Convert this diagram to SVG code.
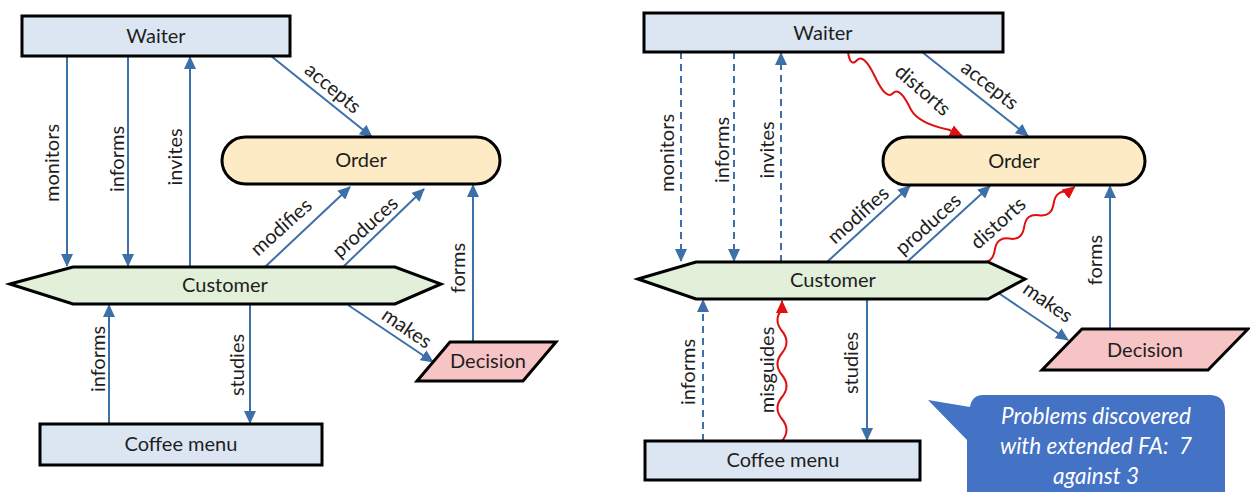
<svg xmlns="http://www.w3.org/2000/svg" width="1250" height="494" viewBox="0 0 1250 494">
<style>
text{font-family:Lato,"Open Sans","Liberation Sans",sans-serif;font-size:20px;fill:#1e1e1e}
.n{text-anchor:middle}
.lb{text-anchor:middle}
.box{fill:#DCE6F2;stroke:#000;stroke-width:3}
.ord{fill:#FDEBC6;stroke:#000;stroke-width:3}
.cus{fill:#E2EFD9;stroke:#000;stroke-width:3}
.dec{fill:#F6C4C4;stroke:#000;stroke-width:3}
.a{fill:none;stroke:#3D6FA8;stroke-width:2;marker-end:url(#ab)}
.d{stroke-dasharray:7 5}
.r{fill:none;stroke:#E01010;stroke-width:2;marker-end:url(#ar)}
.call{fill:#4472C4}
.ct{font-style:italic;font-size:22.5px;fill:#fff;text-anchor:middle}
</style>
<defs>
<marker id="ab" markerWidth="13" markerHeight="12" refX="12" refY="6" orient="auto" markerUnits="userSpaceOnUse"><path d="M0,0 L13,6 L0,12 z" fill="#3D6FA8"/></marker>
<marker id="ar" markerWidth="13" markerHeight="12" refX="12" refY="6" orient="auto" markerUnits="userSpaceOnUse"><path d="M0,0 L13,6 L0,12 z" fill="#E01010"/></marker>
</defs>

<!-- LEFT DIAGRAM -->
<g id="connectors-left">
<path class="a" d="M67,56 V266"/>
<path class="a" d="M128,56 V266"/>
<path class="a" d="M190,267 V57"/>
<path class="a" d="M271,56 L372,137"/>
<path class="a" d="M265,267 L350,187"/>
<path class="a" d="M343,267 L424,189"/>
<path class="a" d="M473,342 V185"/>
<path class="a" d="M348,305 L433,362"/>
<path class="a" d="M109,424 V305"/>
<path class="a" d="M250,304 V423"/>
<text class="lb" transform="translate(52,163) rotate(-90)" dy=".35em">monitors</text>
<text class="lb" transform="translate(117,159) rotate(-90)" dy=".35em">informs</text>
<text class="lb" transform="translate(175,157) rotate(-90)" dy=".35em">invites</text>
<text class="lb" transform="translate(333,88) rotate(40)" dy=".35em">accepts</text>
<text class="lb" transform="translate(281,227) rotate(-42)" dy=".35em">modifies</text>
<text class="lb" transform="translate(365,227) rotate(-42)" dy=".35em">produces</text>
<text class="lb" transform="translate(458,268) rotate(-90)" dy=".35em">forms</text>
<text class="lb" transform="translate(407,328) rotate(34)" dy=".35em">makes</text>
<text class="lb" transform="translate(98,359) rotate(-90)" dy=".35em">informs</text>
<text class="lb" transform="translate(237,365) rotate(-90)" dy=".35em">studies</text>
</g>
<g id="waiter-left"><rect class="box" x="22" y="16" width="268" height="40"/><text class="n" x="156" y="43">Waiter</text></g>
<g id="order-left"><rect class="ord" x="222" y="137" width="278" height="47" rx="23.5"/><text class="n" x="361" y="167">Order</text></g>
<g id="customer-left"><polygon class="cus" points="10,284 73,267 395,267 441,284 395,304 73,304"/><text class="n" x="225" y="292">Customer</text></g>
<g id="coffee-left"><rect class="box" x="40" y="424" width="282" height="41"/><text class="n" x="181" y="451">Coffee menu</text></g>
<g id="decision-left"><polygon class="dec" points="450,342 556,342 523,381 417,381"/><text class="n" x="488" y="368">Decision</text></g>

<!-- RIGHT DIAGRAM -->
<g id="connectors-right">
<path class="a d" d="M681,52 V261"/>
<path class="a d" d="M734,52 V261"/>
<path class="a d" d="M781,262 V53"/>
<path class="a" d="M922,52 L1028,136"/>
<path class="r" d="M848,52 q2.24,15.62 9,8.25 t18,16.5 t18,16.5 t18,16.5 q8,14 38,20 l13,6"/>
<path class="a" d="M827,262 L910,186"/>
<path class="a" d="M907,262 L990,186"/>
<path class="r" d="M980,262 q12.7,2.1 14.73,-11.70 t14.73,-11.70 t14.73,-11.70 t14.73,-11.70 t14.73,-11.70 t14.73,-11.70 l6.26,-4.98"/>
<path class="a" d="M1110,329 V186"/>
<path class="a" d="M997,292 L1068,340"/>
<path class="a d" d="M703,441 V300"/>
<path class="r" d="M782,441 q9,-11 0,-22 t0,-22 t0,-22 t0,-22 t0,-22 t0,-22 l0,-8"/>
<path class="a" d="M867,299 V440"/>
<text class="lb" transform="translate(667,153) rotate(-90)" dy=".35em">monitors</text>
<text class="lb" transform="translate(722,150) rotate(-90)" dy=".35em">informs</text>
<text class="lb" transform="translate(767,150) rotate(-90)" dy=".35em">invites</text>
<text class="lb" transform="translate(923,90) rotate(41)" dy=".35em">distorts</text>
<text class="lb" transform="translate(990,85) rotate(38)" dy=".35em">accepts</text>
<text class="lb" transform="translate(858,215) rotate(-42)" dy=".35em">modifies</text>
<text class="lb" transform="translate(928,224) rotate(-42)" dy=".35em">produces</text>
<text class="lb" transform="translate(998,223) rotate(-42)" dy=".35em">distorts</text>
<text class="lb" transform="translate(1095,260) rotate(-90)" dy=".35em">forms</text>
<text class="lb" transform="translate(1048,302) rotate(35)" dy=".35em">makes</text>
<text class="lb" transform="translate(688,372) rotate(-90)" dy=".35em">informs</text>
<text class="lb" transform="translate(767,370) rotate(-90)" dy=".35em">misguides</text>
<text class="lb" transform="translate(851,363) rotate(-90)" dy=".35em">studies</text>
</g>
<g id="waiter-right"><rect class="box" x="644" y="13" width="359" height="39"/><text class="n" x="823" y="40">Waiter</text></g>
<g id="order-right"><rect class="ord" x="883" y="137" width="262" height="48" rx="24"/><text class="n" x="1014" y="168">Order</text></g>
<g id="customer-right"><polygon class="cus" points="638,279 696,262 988,262 1025,279 988,299 696,299"/><text class="n" x="833" y="287">Customer</text></g>
<g id="coffee-right"><rect class="box" x="645" y="441" width="275" height="39"/><text class="n" x="783" y="467">Coffee menu</text></g>
<g id="decision-right"><polygon class="dec" points="1082,329 1248,329 1208,370 1042,370"/><text class="n" x="1145" y="357">Decision</text></g>

<g id="callout">
<path class="call" d="M983,395 H1209 Q1225,395 1225,411 V492 H967 V440 L928,400 L970,407 Q972,395 983,395 Z"/>
<text class="ct" x="1096" y="424">Problems discovered</text>
<text class="ct" x="1096" y="454">with extended FA:&#160; 7</text>
<text class="ct" x="1096" y="484">against 3</text>
</g>
</svg>
